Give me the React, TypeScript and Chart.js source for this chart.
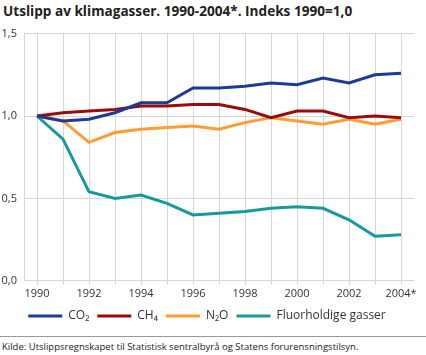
import React, { useEffect, useRef } from "react";
import { Chart, registerables } from "chart.js";

Chart.register(...registerables);

const years = ["1990","1991","1992","1993","1994","1995","1996","1997","1998","1999","2000","2001","2002","2003","2004*"];
const co2 = [1.0, 0.97, 0.98, 1.02, 1.08, 1.08, 1.17, 1.17, 1.18, 1.2, 1.19, 1.23, 1.2, 1.25, 1.26];
const ch4 = [1.0, 1.02, 1.03, 1.04, 1.06, 1.06, 1.07, 1.07, 1.04, 0.99, 1.03, 1.03, 0.99, 1.0, 0.99];
const n2o = [1.0, 0.97, 0.84, 0.9, 0.92, 0.93, 0.94, 0.92, 0.96, 0.99, 0.97, 0.95, 0.98, 0.95, 0.98];
const fluor = [1.0, 0.86, 0.54, 0.5, 0.52, 0.47, 0.4, 0.41, 0.42, 0.44, 0.45, 0.44, 0.37, 0.27, 0.28];
const seriesNames = ["CO₂", "CH₄", "N₂O", "Fluorholdige gasser"];
const seriesColors = ["#1f3a96", "#9a0b0b", "#ff9c33", "#18999a"];
const yTicks = [0, 0.5, 1.0, 1.5];

const FONT = "'Open Sans', 'DejaVu Sans', sans-serif";

export default function App() {
  const ref = useRef<HTMLCanvasElement | null>(null);
  useEffect(() => {
    const canvas = ref.current;
    if (!canvas) return;
    const all = [co2, ch4, n2o, fluor];
    const chart = new Chart(canvas, {
      type: "line",
      data: {
        labels: years,
        datasets: all.map((d, i) => ({
          label: seriesNames[i],
          data: d,
          borderColor: seriesColors[i],
          backgroundColor: seriesColors[i],
          borderWidth: 3,
          pointRadius: 0,
          tension: 0,
        })),
      },
      options: {
        animation: false,
        responsive: false,
        maintainAspectRatio: false,
        layout: { padding: { left: 0, right: 12, top: 11, bottom: 0 } },
        plugins: {
          legend: {
            position: "bottom",
            labels: {
              boxWidth: 34,
              boxHeight: 3,
              color: "#333",
              font: { family: FONT, size: 12 },
              padding: 8,
              generateLabels: (c: any) =>
                Chart.defaults.plugins.legend.labels.generateLabels(c).map((l: any) => ({ ...l, lineWidth: 0 })),
            },
          },
          tooltip: { enabled: false },
        },
        scales: {
          x: {
            offset: true,
            grid: { offset: false, color: "#d6d6d6", lineWidth: 1, drawTicks: true, tickLength: 4 },
            border: { display: false },
            ticks: {
              autoSkip: false,
              maxRotation: 0,
              color: "#333",
              font: { family: FONT, size: 11 },
              padding: 2,
              callback: (_v: any, i: number) => (i % 2 === 0 ? years[i] : ""),
            },
          },
          y: {
            min: 0,
            max: 1.5,
            afterFit: (s: any) => { s.width = 24; },
            grid: { color: "#d6d6d6", lineWidth: 1, drawTicks: false },
            border: { display: true, color: "#d6d6d6" },
            afterBuildTicks: (s: any) => { s.ticks = yTicks.map((v) => ({ value: v })); },
            ticks: {
              color: "#333",
              font: { family: FONT, size: 11 },
              padding: 7,
              callback: (v: any) => Number(v).toFixed(1).replace(".", ","),
            },
          },
        },
      },
    });
    return () => chart.destroy();
  }, []);

  return (
    <div style={{ position: "fixed", left: 0, top: 0, width: 426, height: 355, background: "#fff", fontFamily: FONT, overflow: "hidden" }}>
      <div style={{ position: "absolute", left: 3, top: 1, fontSize: 13.6, fontWeight: 700, color: "#222", whiteSpace: "nowrap" }}>
        Utslipp av klimagasser. 1990-2004*. Indeks 1990=1,0
      </div>
      <canvas ref={ref} width={426} height={312} style={{ position: "absolute", left: 0, top: 20, width: 426, height: 312 }} />
      <div style={{ position: "absolute", left: 0, top: 336, width: 426, height: 1, background: "#999" }} />
      <div style={{ position: "absolute", left: 2, top: 340, fontSize: 9.5, color: "#222", whiteSpace: "nowrap" }}>
        Kilde: Utslippsregnskapet til Statistisk sentralbyrå og Statens forurensningstilsyn.
      </div>
    </div>
  );
}
